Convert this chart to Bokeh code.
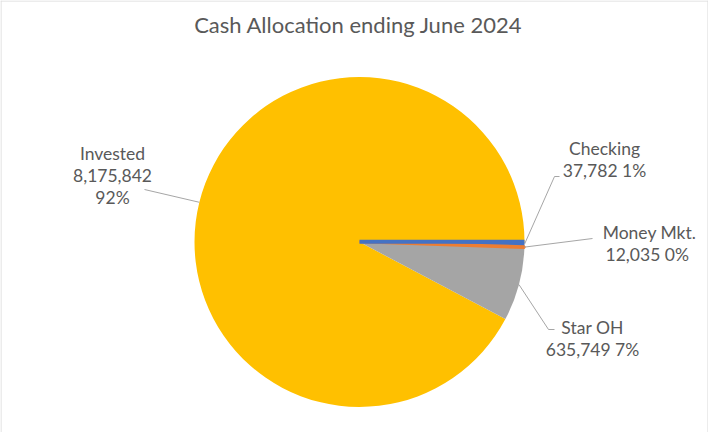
import math
from bokeh.plotting import figure
from bokeh.models import Range1d, Span
from bokeh.embed import file_html
from bokeh.resources import INLINE
from bokeh.core.properties import value

# ---- data ----
categories = ["Checking", "Money Mkt.", "Star OH", "Invested"]
amounts = [37782, 12035, 635749, 8175842]
pct_labels = ["1%", "0%", "7%", "92%"]
colors = ["#4472C4", "#ED7D31", "#A5A5A5", "#FFC000"]
title_text = "Cash Allocation ending June 2024"

# ---- layout (screen pixel coordinates) ----
W, H = 708, 432
PAGE_H = 448


def Y(sy):
    return PAGE_H - sy


CX, CY, R = 367, Y(249.5), 165
FONT = "Lato"
TXT = "#595959"
LEADER = "#A6A6A6"

label_layout = {
    "Checking": (612, [156, 178], "two", [(562, 184), (567, 184)]),
    "Money Mkt.": (657, [240, 262], "two2", [(600, 246)]),
    "Star OH": (600, [335, 357], "two", [(556, 337), (562, 337)]),
    "Invested": (120, [161, 183, 205], "three", [(152, 197)]),
}

p = figure(width=W, height=H, output_backend="svg", toolbar_location=None,
           x_range=Range1d(8, 8 + W), y_range=Range1d(Y(8 + H), Y(8)),
           x_axis_type=None, y_axis_type=None, min_border=0,
           background_fill_color="white", border_fill_color="white")
p.grid.visible = False
p.outline_line_color = None

# chart-area border (left, right, top)
p.add_layout(Span(location=8.5, dimension="height", line_color="#D9D9D9", line_width=1))
p.add_layout(Span(location=715.5, dimension="height", line_color="#D9D9D9", line_width=1))
p.add_layout(Span(location=Y(8.5), dimension="width", line_color="#D9D9D9", line_width=1))

total = sum(amounts)
cum = 0.0
wedges = []
xs_lines, ys_lines = [], []
tx, ty, tt = [], [], []
for cat, amt, pct, col in zip(categories, amounts, pct_labels, colors):
    f = amt / total
    a_start = -cum * 2 * math.pi
    a_end = -(cum + f) * 2 * math.pi
    mid = -(cum + f / 2) * 2 * math.pi
    wedges.append((cat, a_end, a_start, col))
    cum += f

    lx, lys, kind, elbows = label_layout[cat]
    amt_s = f"{amt:,}"
    if kind == "three":
        lines = [cat, amt_s, pct]
    elif kind == "two2":
        lines = [cat, amt_s + "  " + pct]
    else:
        lines = [cat, amt_s + " " + pct]
    for s, ly in zip(lines, lys):
        tx.append(lx)
        ty.append(Y(ly))
        tt.append(s)

    ex = CX + R * math.cos(mid)
    ey = CY + R * math.sin(mid)
    xs_lines.append([ex] + [e[0] for e in elbows])
    ys_lines.append([ey] + [Y(e[1]) for e in elbows])

# draw order: Invested, Star OH, Checking, Money Mkt. (thin slices on top)
order = ["Invested", "Star OH", "Checking", "Money Mkt."]
wd = {w[0]: w for w in wedges}
for name in order:
    cat, a0, a1, col = wd[name]
    if cat == "Money Mkt.":
        p.wedge(x=CX, y=CY, radius=R, start_angle=a0, end_angle=a1,
                direction="anticlock", fill_color=col, line_color=col,
                line_width=2.5)
    else:
        p.wedge(x=CX, y=CY, radius=R, start_angle=a0, end_angle=a1,
                direction="anticlock", fill_color=col, line_color=None)

# Checking slice border (thick blue edge along its leading radius)
cat, a0, a1, col = wd["Checking"]
p.ray(x=[CX], y=[CY + 0.3], length=R, angle=a1, line_color=col, line_width=4)

p.multi_line(xs=xs_lines, ys=ys_lines, line_color=LEADER, line_width=1)

p.text(x=tx, y=ty, text=tt, text_align="center", text_baseline="middle",
       text_font=value(FONT), text_font_size="17.5px", text_color=TXT)

p.text(x=[366], y=[Y(32)], text=[title_text], text_align="center",
       text_baseline="middle", text_font=value(FONT), text_font_size="22px",
       text_color=TXT)

open("out.html", "w").write(file_html(p, INLINE))
